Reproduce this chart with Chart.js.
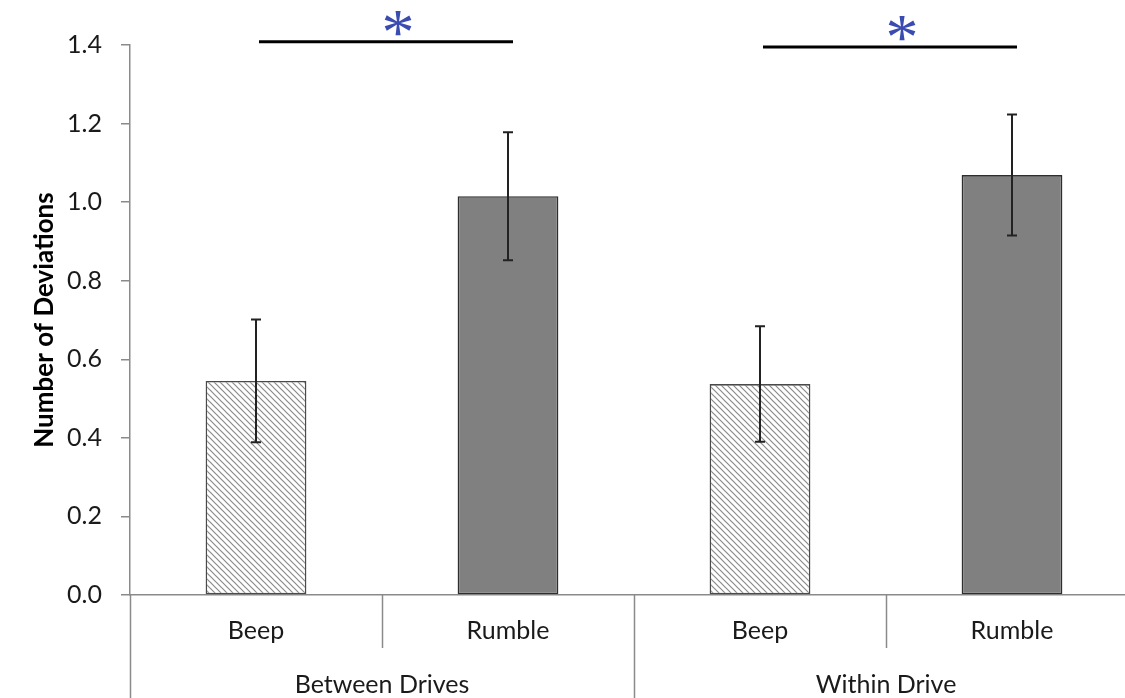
<!DOCTYPE html>
<html><head><meta charset="utf-8">
<script src="https://cdn.jsdelivr.net/npm/chart.js@4"></script>
<style>
html,body{margin:0;padding:0;background:#fff;overflow:hidden;width:1125px;height:698px}
#wrap{position:relative;width:1140px;height:698px}
canvas{display:block}
</style></head>
<body><div id="wrap"><canvas id="c" width="1140" height="698" style="width:1140px;height:698px"></canvas></div>
<script>
// ---- data ----
const categories = ['Beep', 'Rumble', 'Beep', 'Rumble'];
const groups = ['Between Drives', 'Within Drive'];
const groupSize = [2, 2];
const means = [0.545, 1.015, 0.537, 1.069];
const errors = [0.156, 0.163, 0.147, 0.154];
const yTickValues = [0, 0.2, 0.4, 0.6, 0.8, 1.0, 1.2, 1.4];
const sigPairs = [[0, 1], [2, 3]];
const sigLevels = [1.408, 1.395];
const sigMarks = ['*', '*'];
const yTitle = 'Number of Deviations';

// ---- styles ----
const FONT = 'Lato, "Open Sans", sans-serif';
const AXIS = '#8a8a8a';

function hatch() {
  const s = 6, p = document.createElement('canvas');
  p.width = s; p.height = s;
  const g = p.getContext('2d');
  g.fillStyle = '#ffffff'; g.fillRect(0, 0, s, s);
  g.strokeStyle = '#8a8a8a'; g.lineWidth = 1.2;
  g.beginPath();
  g.moveTo(-1, -1); g.lineTo(s + 1, s + 1);
  g.moveTo(-1, s - 1); g.lineTo(1, s + 1);
  g.moveTo(s - 1, -1); g.lineTo(s + 1, 1);
  g.stroke();
  return document.getElementById('c').getContext('2d').createPattern(p, 'repeat');
}
const pat = hatch();
const fills = categories.map(c => c === 'Beep' ? pat : '#808080');
const borders = categories.map(c => c === 'Beep' ? '#4a4a4a' : '#2e2e2e');

const extras = {
  id: 'extras',
  afterDatasetsDraw(chart) {
    const ctx = chart.ctx, x = chart.scales.x, y = chart.scales.y;
    ctx.save();
    // error bars
    ctx.strokeStyle = '#222'; ctx.lineWidth = 2;
    means.forEach((m, i) => {
      const px = x.getPixelForValue(i);
      const top = y.getPixelForValue(m + errors[i]);
      const bot = y.getPixelForValue(m - errors[i]);
      ctx.beginPath();
      ctx.moveTo(px, top); ctx.lineTo(px, bot);
      ctx.moveTo(px - 5, top); ctx.lineTo(px + 5, top);
      ctx.moveTo(px - 5, bot); ctx.lineTo(px + 5, bot);
      ctx.stroke();
    });
    // significance lines
    sigPairs.forEach((pr, k) => {
      const x1 = x.getPixelForValue(pr[0]) + 3;
      const x2 = x.getPixelForValue(pr[1]) + 5;
      const py = y.getPixelForValue(sigLevels[k]);
      ctx.strokeStyle = '#000'; ctx.lineWidth = 3;
      ctx.beginPath(); ctx.moveTo(x1, py); ctx.lineTo(x2, py); ctx.stroke();
      ctx.fillStyle = '#3a4cb0';
      ctx.font = '66px "Liberation Serif", serif';
      ctx.textAlign = 'center'; ctx.textBaseline = 'alphabetic';
      const mt = ctx.measureText(sigMarks[k]);
      const cy = py - 18;
      const base = cy + (mt.actualBoundingBoxAscent - mt.actualBoundingBoxDescent) / 2;
      ctx.fillText(sigMarks[k], (x1 + x2) / 2 + 12, base);
    });
    // category separators
    const ca = chart.chartArea;
    ctx.strokeStyle = AXIS; ctx.lineWidth = 1.5;
    let idx = 0;
    const bounds = [];
    bounds.push({ i: -0.5, full: true });
    groupSize.forEach((n, g) => {
      for (let j = 1; j < n; j++) bounds.push({ i: idx + j - 0.5, full: false });
      idx += n;
      if (g < groupSize.length - 1) bounds.push({ i: idx - 0.5, full: true });
    });
    bounds.forEach(b => {
      const bx = Math.round(x.getPixelForValue(b.i)) + 0.5;
      ctx.beginPath();
      ctx.moveTo(bx, ca.bottom);
      ctx.lineTo(bx, b.full ? chart.height : ca.bottom + 53);
      ctx.stroke();
    });
    // group labels
    ctx.fillStyle = '#1a1a1a';
    ctx.font = '25px ' + FONT;
    ctx.textAlign = 'center'; ctx.textBaseline = 'middle';
    idx = 0;
    groups.forEach((g, k) => {
      const a = x.getPixelForValue(idx - 0.5), b = x.getPixelForValue(idx + groupSize[k] - 0.5);
      ctx.fillText(g, (a + b) / 2, ca.bottom + 90);
      idx += groupSize[k];
    });
    ctx.restore();
  }
};

new Chart(document.getElementById('c'), {
  type: 'bar',
  data: {
    labels: categories,
    datasets: [{
      data: means,
      backgroundColor: fills,
      borderColor: borders,
      borderWidth: 1.6,
      borderSkipped: false,
      barPercentage: 0.4,
      categoryPercentage: 1.0
    }]
  },
  options: {
    responsive: false,
    animation: false,
    layout: { padding: { left: 0, right: 2, top: 45, bottom: 0 } },
    plugins: { legend: { display: false }, tooltip: { enabled: false } },
    scales: {
      x: {
        type: 'category',
        offset: true,
        grid: { display: false, drawTicks: false },
        border: { display: true, color: AXIS, width: 1.5 },
        ticks: { color: '#1a1a1a', font: { family: FONT, size: 25 }, padding: 21, maxRotation: 0 },
        afterFit(s) { s.height = 103; }
      },
      y: {
        min: 0, max: 1.4,
        afterBuildTicks(s) { s.ticks = yTickValues.map(v => ({ value: v })); },
        grid: { drawOnChartArea: false, drawTicks: true, tickLength: 9, color: AXIS, lineWidth: 1.5 },
        border: { display: true, color: AXIS, width: 1.5 },
        ticks: { color: '#1a1a1a', font: { family: FONT, size: 25 }, padding: 19,
          callback: v => Number(v).toFixed(1) },
        title: { display: true, text: yTitle, color: '#000',
          font: { family: FONT, size: 26, weight: 'bold' }, padding: { top: 29, bottom: 0 } },
        afterFit(s) { s.width = 130; }
      }
    }
  },
  plugins: [extras]
});
</script>
</body></html>
